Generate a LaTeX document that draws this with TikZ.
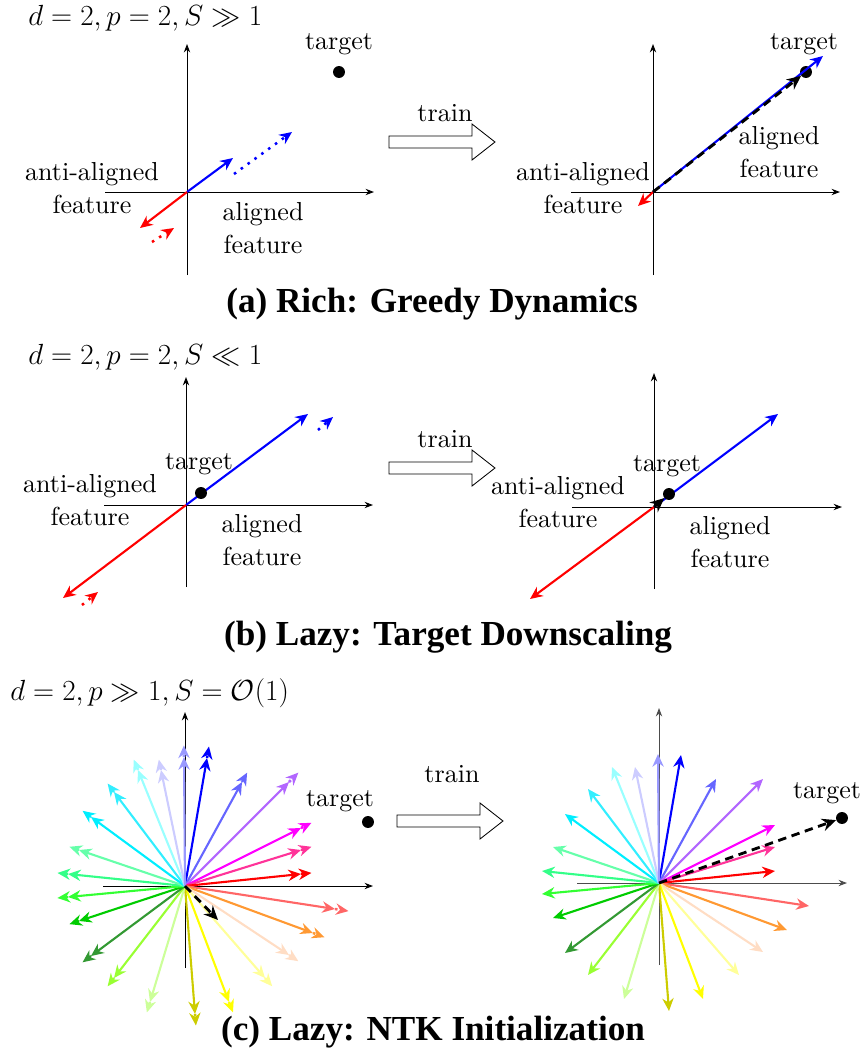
\documentclass[tikz,border=0pt]{standalone}
\usepackage{fontspec}
\setmainfont{lmroman10-regular}[Extension=.otf, BoldFont=lmroman10-bold]
\newfontfamily\capfont{Liberation Serif}[BoldFont={Liberation Serif Bold}]
\usetikzlibrary{arrows.meta,positioning}

% fan colours for panel (c)
\definecolor{cBlue}{RGB}{0,0,255}
\definecolor{cSlate}{RGB}{102,102,255}
\definecolor{cPurple}{RGB}{178,102,255}
\definecolor{cMagenta}{RGB}{255,0,255}
\definecolor{cPink}{RGB}{255,51,153}
\definecolor{cRed}{RGB}{255,0,0}
\definecolor{cSalmon}{RGB}{255,102,102}
\definecolor{cOrange}{RGB}{255,153,51}
\definecolor{cPeach}{RGB}{255,221,196}
\definecolor{cLYellow}{RGB}{255,255,153}
\definecolor{cYellow}{RGB}{255,255,0}
\definecolor{cOlive}{RGB}{204,204,0}
\definecolor{cLGreen}{RGB}{204,255,153}
\definecolor{cYGreen}{RGB}{153,255,51}
\definecolor{cDGreen}{RGB}{51,153,51}
\definecolor{cGreen}{RGB}{0,204,0}
\definecolor{cBGreen}{RGB}{51,255,51}
\definecolor{cSGreen}{RGB}{51,255,136}
\definecolor{cAqua}{RGB}{102,255,170}
\definecolor{cCyan}{RGB}{0,238,255}
\definecolor{cLCyan}{RGB}{51,238,255}
\definecolor{cPCyan}{RGB}{153,255,255}
\definecolor{cLav}{RGB}{204,204,255}
\definecolor{cPeri}{RGB}{153,153,255}

\newcommand{\fanlist}{22/128/cBlue, 57/104/cSlate, 104/104/cPurple,
  116/58/cMagenta, 116/36/cPink, 116/12/cRed, 150/-23/cSalmon,
  128/-47/cOrange, 104/-69/cPeach, 80/-92/cLYellow, 44/-116/cYellow,
  10/-128/cOlive, -35/-116/cLGreen, -71/-92/cYGreen, -94/-70/cDGreen,
  -106/-35/cGreen, -117/-11/cBGreen, -117/12/cSGreen, -106/36/cAqua,
  -94/69/cCyan, -71/94/cLCyan, -47/116/cPCyan, -24/116/cLav, -1/129/cPeri}

\begin{document}
\begin{tikzpicture}[
  x=0.025cm, y=0.025cm,
  >=Stealth,
  lbl/.style={font=\fontsize{18.5}{23.5}\selectfont, align=center, inner sep=0pt},
  ttl/.style={font=\fontsize{20}{24}\selectfont, anchor=base west, inner sep=0pt},
  capt/.style={font=\capfont\bfseries\fontsize{25}{30}\selectfont, anchor=base, inner sep=0pt},
  axis/.style={line width=0.7pt, -{Stealth[length=6pt,width=4.5pt]}},
  vec/.style={line width=1.5pt, -{Stealth[length=9pt,width=8pt]}},
  fan/.style={line width=1.5pt, -{Stealth[length=9pt,width=8pt]}},
  dotv/.style={line width=1.8pt, dash pattern=on 1.8pt off 4.2pt},
  gd/.style={line width=2pt, dash pattern=on 6pt off 4pt, -{Stealth[length=10pt,width=9pt]}},
  dot/.style={circle, fill, inner sep=0pt, minimum size=8.5pt},
  trainarr/.style={draw, line width=0.6pt}
]
  \useasboundingbox (0,0) rectangle (866,-1055);

  % (a) rich regime
  \node[ttl] (ttlA) at (28,-25) {$d=2,p=2,S\gg 1$};
  \begin{scope}[shift={(187,-192)}]
    \coordinate (oA) at (0,0);
    \draw[axis] (-82,0) -- (187,0);
    \draw[axis] (0,-83) -- (0,148);
    \node[dot] (tgA) at (152,120) {};
    \node[lbl] (tgAlbl) at (152,148) {target};
    \draw[vec,blue] (oA) -- (46,34);
    \draw[vec,blue,dotv] (47,18) -- (105,60);
    \draw[vec,red] (oA) -- (-47,-36);
    \draw[vec,red,dotv] (-35,-50) -- (-13,-36);
    \node[lbl] (antiA) at (-95,4) {anti-aligned\\feature};
    \node[lbl] (alA) at (76,-36) {aligned\\feature};
  \end{scope}
  \draw[trainarr] (389,-136) -- (472,-136) -- (472,-124) -- (495,-142)
    -- (472,-160) -- (472,-148) -- (389,-148) -- cycle;
  \node[lbl] (trA) at (445,-113) {train};
  \begin{scope}[shift={(653,-192)}]
    \coordinate (oB) at (0,0);
    \draw[axis] (-82,0) -- (187,0);
    \draw[axis] (0,-83) -- (0,148);
    \node[dot] (tgB) at (153,120) {};
    \node[lbl] (tgBlbl) at (151,148) {target};
    \draw[vec,blue] (oB) -- (170,136);
    \draw[vec,red] (oB) -- (-15,-14);
    \draw[gd] (oB) -- (tgB);
    \node[lbl] (antiB) at (-70,4) {anti-aligned\\feature};
    \node[lbl] (alB) at (126,40) {aligned\\feature};
  \end{scope}
  \node[capt] (capA) at (432,-312) {(a) Rich: Greedy Dynamics};

  % (b) small target
  \node[ttl] (ttlB) at (28,-364) {$d=2,p=2,S\ll 1$};
  \begin{scope}[shift={(186,-505)}]
    \coordinate (oC) at (0,0);
    \draw[axis] (-82,0) -- (187,0);
    \draw[axis] (0,-82) -- (0,128);
    \draw[vec,blue] (oC) -- (122,91);
    \draw[vec,blue,dotv] (132,75) -- (147,88);
    \draw[vec,red] (oC) -- (-123,-93);
    \draw[vec,red,dotv] (-104,-100) -- (-88,-87);
    \node[dot] (tgC) at (15,12) {};
    \node[lbl] (tgClbl) at (13,41) {target};
    \node[lbl] (antiC) at (-96,5) {anti-aligned\\feature};
    \node[lbl] (alC) at (76,-35) {aligned\\feature};
  \end{scope}
  \draw[trainarr] (389,-462) -- (472,-462) -- (472,-450) -- (495,-468)
    -- (472,-486) -- (472,-474) -- (389,-474) -- cycle;
  \node[lbl] (trB) at (445,-439) {train};
  \begin{scope}[shift={(654,-507)}]
    \coordinate (oD) at (0,0);
    \draw[axis] (-82,0) -- (188,0);
    \draw[axis] (0,-82) -- (0,134);
    \draw[vec,blue] (oD) -- (124,93);
    \draw[vec,red] (oD) -- (-124,-92);
    \node[dot] (tgD) at (15,13) {};
    \draw[gd] (oD) -- (tgD);
    \node[lbl] (tgDlbl) at (13,41) {target};
    \node[lbl] (antiD) at (-96,5) {anti-aligned\\feature};
    \node[lbl] (alD) at (76,-35) {aligned\\feature};
  \end{scope}
  \node[capt] (capB) at (448,-645) {(b) Lazy: Target Downscaling};

  % (c) many features
  \node[ttl] (ttlC) at (10,-700) {$d=2,p\gg 1,S=\mathcal{O}(1)$};
  \begin{scope}[shift={(185,-886)}]
    \coordinate (oE) at (0,0);
    \draw[axis] (-82,0) -- (188,0);
    \draw[axis] (0,-82) -- (0,174);
    \foreach \dx/\dy/\cl in \fanlist {
      \draw[fan,\cl] (oE) -- (\dx,\dy);
      \draw[fan,\cl,dotv] (\dx,\dy) -- ({1.09*\dx},{1.09*\dy});
    }
    \draw[gd] (oE) -- (33,-34);
    \node[dot] (tgE) at (183,64) {};
    \node[lbl] (tgElbl) at (155,85) {target};
  \end{scope}
  \draw[trainarr] (397,-815) -- (480,-815) -- (480,-803) -- (503,-821)
    -- (480,-839) -- (480,-827) -- (397,-827) -- cycle;
  \node[lbl] (trC) at (452,-774) {train};
  \begin{scope}[shift={(659,-883)}]
    \coordinate (oF) at (0,0);
    \draw[axis,black!70] (-82,0) -- (188,0);
    \draw[axis,black!70] (0,-82) -- (0,175);
    \foreach \dx/\dy/\cl in \fanlist {
      \draw[fan,\cl] (oF) -- (\dx,\dy);
    }
    \node[dot] (tgF) at (183,65) {};
    \draw[gd] (oF) -- (tgF);
    \node[lbl] (tgFlbl) at (168,90) {target};
  \end{scope}
  \node[capt] (capC) at (433,-1040) {(c) Lazy: NTK Initialization};
\end{tikzpicture}
\end{document}
